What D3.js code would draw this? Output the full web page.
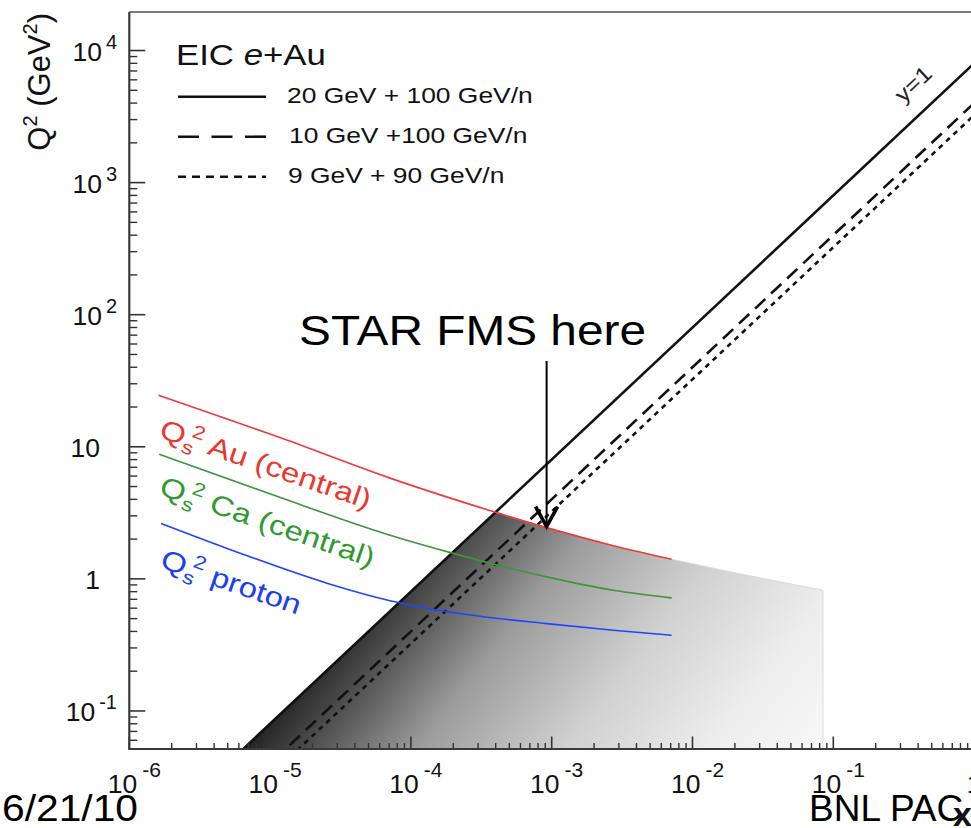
<!DOCTYPE html>
<html>
<head>
<meta charset="utf-8">
<script src="https://cdn.jsdelivr.net/npm/d3@7"></script>
<style>
  html, body { margin: 0; padding: 0; background: #fff; }
  svg { display: block; font-family: "Liberation Sans", Arial, Helvetica, sans-serif; }
</style>
</head>
<body>
<svg id="chart" width="971" height="828"></svg>
<script>
// ---- axis ticks ----
const xTicks = [1e-6, 1e-5, 1e-4, 1e-3, 1e-2, 1e-1, 1];
const xTickLabels = [["10", "-6"], ["10", "-5"], ["10", "-4"], ["10", "-3"], ["10", "-2"], ["10", "-1"], ["1", ""]];
const yTicks = [1e-1, 1, 10, 1e2, 1e3, 1e4];
const yTickLabels = [["10", "-1"], ["1", ""], ["10", ""], ["10", "2"], ["10", "3"], ["10", "4"]];

// ---- EIC e+Au kinematic limits (y = 1), Q^2 at x = 1e-6 and x = 1 ----
const beamNames = ["20 GeV + 100 GeV/n", "10 GeV +100 GeV/n", "9 GeV + 90 GeV/n"];
const beamX = [1e-6, 1];
const beamQ2_20x100 = [0.008, 8000];
const beamQ2_10x100 = [0.004, 4000];
const beamQ2_9x90 = [0.00324, 3240];

// ---- saturation scale Qs^2 (GeV^2) versus x ----
const satNames = ["Au (central)", "Ca (central)", "proton"];
const auX = [1.61e-6, 1.175e-5, 7.11e-5, 3.85e-4, 9.2e-4, 2.74e-3, 7.11e-3];
const auQs2 = [24.6, 11.74, 5.79, 3.23, 2.443, 1.784, 1.41];
const caX = [1.63e-6, 1.08e-5, 7.11e-5, 2.0e-4, 9.2e-4, 2.74e-3, 7.11e-3];
const caQs2 = [8.79, 4.27, 2.14, 1.56, 1.035, 0.821, 0.718];
const pX = [1.68e-6, 6.64e-6, 2.67e-5, 7.11e-5, 2.36e-4, 9.2e-4, 2.74e-3, 7.11e-3];
const pQs2 = [2.63, 1.517, 0.912, 0.684, 0.542, 0.458, 0.408, 0.374];

// shaded region: below the Au saturation scale (continued to x = 0.0845) and right of y = 1
const shadeX = [...auX, 0.0845];
const shadeQs2 = [...auQs2, 0.82];

// STAR FMS reach
const starFmsX = 9.2e-4;
const starLabel = "STAR FMS here";

// ---- layout ----
const L = 129.3, R = 974.1, T = 12, B = 749;
const yMin = 0.05152, yMax = 19572;
const TEXT_STRETCH = 1.2;
const GRAD_ANGLE = 38; // degrees below horizontal

const svg = d3.select("#chart");
const x = d3.scaleLog().domain([1e-6, 1]).range([L, R]);
const y = d3.scaleLog().domain([yMin, yMax]).range([B, T]);

const zip = (a, b) => a.map((v, i) => [v, b[i]]);
const defs = svg.append("defs");

defs.append("clipPath").attr("id", "plotClip")
  .append("rect").attr("x", L).attr("y", T).attr("width", R - L).attr("height", B - T);

// log-log interpolation on a sampled curve
function interpLog(xs, ys, xv) {
  const lx = xs.map(Math.log10), ly = ys.map(Math.log10), t = Math.log10(xv);
  for (let i = 0; i < lx.length - 1; i++) {
    if (t >= lx[i] && t <= lx[i + 1]) {
      const f = (t - lx[i]) / (lx[i + 1] - lx[i]);
      return Math.pow(10, ly[i] + f * (ly[i + 1] - ly[i]));
    }
  }
  return ys[ys.length - 1];
}

// ---- shaded saturation region with gradient ----
const pa = [x(beamX[0]), y(beamQ2_20x100[0])];
const pb = [x(beamX[1]), y(beamQ2_20x100[1])];
const dLen = Math.hypot(pb[0] - pa[0], pb[1] - pa[1]);
const dir = [(pb[0] - pa[0]) / dLen, (pb[1] - pa[1]) / dLen];
const perp = [-dir[1], dir[0]];
// where the y = 1 line meets the bottom of the frame
const tBottom = (B - pa[1]) / dir[1];
const g0 = [pa[0] + dir[0] * tBottom, B];
const gDir = [Math.cos(GRAD_ANGLE * Math.PI / 180), Math.sin(GRAD_ANGLE * Math.PI / 180)];
const farX = x(shadeX[shadeX.length - 1]);
const gLen = (farX - g0[0]) * gDir[0];

const grad = defs.append("linearGradient").attr("id", "shadeGrad")
  .attr("gradientUnits", "userSpaceOnUse")
  .attr("x1", g0[0]).attr("y1", g0[1])
  .attr("x2", g0[0] + gDir[0] * gLen).attr("y2", g0[1] + gDir[1] * gLen);
[[0, "#222222"], [0.1, "#4a4a4a"], [0.3, "#9c9c9c"], [0.55, "#d0d0d0"], [0.8, "#ededed"], [1, "#f8f8f8"]]
  .forEach(([o, c]) => grad.append("stop").attr("offset", o).attr("stop-color", c));

defs.append("clipPath").attr("id", "rightOfLimit")
  .append("polygon")
  .attr("points", [pa, pb, [R + 50, B + 200], [pa[0], B + 200]].map(p => p.join(",")).join(" "));

const plot = svg.append("g").attr("clip-path", "url(#plotClip)");

plot.append("g").attr("clip-path", "url(#rightOfLimit)")
  .append("path")
  .datum(zip(shadeX, shadeQs2))
  .attr("d", d3.area().x(d => x(d[0])).y0(B).y1(d => y(d[1])).curve(d3.curveMonotoneX))
  .attr("fill", "url(#shadeGrad)")
  .attr("stroke", "#d6d6d6")
  .attr("stroke-width", 0.8);

// ---- kinematic limit lines ----
const beams = [
  { q2: beamQ2_20x100, dash: null },
  { q2: beamQ2_10x100, dash: "14,8" },
  { q2: beamQ2_9x90, dash: "5,5" }
];
const lineGen = d3.line().x(d => x(d[0])).y(d => y(d[1]));
beams.forEach(b => {
  plot.append("path")
    .datum(zip(beamX, b.q2))
    .attr("d", lineGen)
    .attr("fill", "none")
    .attr("stroke", "#111")
    .attr("stroke-width", 2.6)
    .attr("stroke-dasharray", b.dash);
});

// ---- saturation curves ----
const satCurves = [
  { xs: auX, ys: auQs2, color: "#f03a3a" },
  { xs: caX, ys: caQs2, color: "#3c963c" },
  { xs: pX, ys: pQs2, color: "#1e46ff" }
];
const curveGen = d3.line().x(d => x(d[0])).y(d => y(d[1])).curve(d3.curveMonotoneX);
satCurves.forEach(c => {
  plot.append("path")
    .datum(zip(c.xs, c.ys))
    .attr("d", curveGen)
    .attr("fill", "none")
    .attr("stroke", c.color)
    .attr("stroke-width", 1.6);
});

// ---- frame and ticks ----
const axes = svg.append("g").attr("stroke", "#333");
function decadeMinors(lo, hi) {
  const out = [];
  for (let e = Math.floor(Math.log10(lo)); e <= Math.ceil(Math.log10(hi)); e++) {
    for (let k = 2; k <= 9; k++) {
      const v = k * Math.pow(10, e);
      if (v > lo && v < hi) out.push(v);
    }
  }
  return out;
}
// x axis ticks (pointing up into the frame)
axes.selectAll(".xmaj").data(xTicks).join("line")
  .attr("x1", d => x(d)).attr("x2", d => x(d)).attr("y1", B).attr("y2", B - 12.5)
  .attr("stroke-width", 1.6);
axes.selectAll(".xmin").data(decadeMinors(1e-6, 1)).join("line")
  .attr("x1", d => x(d)).attr("x2", d => x(d)).attr("y1", B).attr("y2", B - 6)
  .attr("stroke-width", 1.4);
// y axis ticks (pointing right into the frame)
axes.selectAll(".ymaj").data(yTicks).join("line")
  .attr("x1", L).attr("x2", L + 16).attr("y1", d => y(d)).attr("y2", d => y(d))
  .attr("stroke-width", 1.6);
axes.selectAll(".ymin").data(decadeMinors(yMin, yMax)).join("line")
  .attr("x1", L).attr("x2", L + 8).attr("y1", d => y(d)).attr("y2", d => y(d))
  .attr("stroke-width", 1.4);
// frame
svg.append("line").attr("x1", L).attr("x2", R).attr("y1", T).attr("y2", T)
  .attr("stroke", "#7a7a7a").attr("stroke-width", 2.2);
svg.append("line").attr("x1", L).attr("x2", L).attr("y1", T).attr("y2", B)
  .attr("stroke", "#3a3a3a").attr("stroke-width", 2.2);
svg.append("line").attr("x1", L - 1).attr("x2", R).attr("y1", B).attr("y2", B)
  .attr("stroke", "#3a3a3a").attr("stroke-width", 2.2);

// ---- tick labels ----
const xLab = svg.append("g").attr("fill", "#111");
xTicks.forEach((v, i) => {
  const [base, exp] = xTickLabels[i];
  const t = xLab.append("text")
    .attr("x", x(v) + (exp ? 5 : 0)).attr("y", 793)
    .attr("text-anchor", "middle").attr("font-size", 26.5);
  t.append("tspan").text(base);
  if (exp) t.append("tspan").attr("dx", 5).attr("dy", -16).attr("font-size", 21).text(exp);
});
const yLab = svg.append("g").attr("fill", "#111");
yTicks.forEach((v, i) => {
  const [base, exp] = yTickLabels[i];
  const t = yLab.append("text")
    .attr("x", exp ? 117 : 100).attr("y", y(v) + 10.5)
    .attr("text-anchor", "end").attr("font-size", 26.5);
  t.append("tspan").text(base);
  if (exp) t.append("tspan").attr("dx", 4).attr("dy", -12).attr("font-size", 20).text(exp);
});

// ---- y axis title ----
const yTitle = svg.append("text")
  .attr("transform", "translate(50,13) rotate(-90)")
  .attr("text-anchor", "end").attr("font-size", 31).attr("fill", "#111");
yTitle.append("tspan").text("Q");
yTitle.append("tspan").attr("dy", -13).attr("font-size", 20).text("2");
yTitle.append("tspan").attr("dy", 13).text(" (GeV");
yTitle.append("tspan").attr("dy", -13).attr("font-size", 20).text("2");
yTitle.append("tspan").attr("dy", 13).text(")");

// ---- legend ----
const leg = svg.append("g").attr("fill", "#111");
const legTitle = leg.append("text")
  .attr("transform", "translate(176,65) scale(1.2,1)").attr("font-size", 29);
legTitle.append("tspan").text("EIC ");
legTitle.append("tspan").attr("font-style", "italic").text("e");
legTitle.append("tspan").text("+Au");
const legRows = [96.7, 136.7, 176.7];
const legDash = [null, "21,12.5", "8,6"];
const legTextX = [287, 289, 288];
beamNames.forEach((name, i) => {
  leg.append("line").attr("x1", 178).attr("x2", 266)
    .attr("y1", legRows[i]).attr("y2", legRows[i])
    .attr("stroke", "#111").attr("stroke-width", 2.6)
    .attr("stroke-dasharray", legDash[i]);
  leg.append("text")
    .attr("transform", `translate(${legTextX[i]},${legRows[i] + 6.6}) scale(${TEXT_STRETCH},1)`)
    .attr("font-size", 22).text(name);
});

// ---- y = 1 label along the 20 GeV + 100 GeV/n limit ----
{
  const xv = 0.498;
  const px = x(xv), py = y(interpLog(beamX, beamQ2_20x100, xv));
  const ang = Math.atan2(pb[1] - pa[1], pb[0] - pa[0]) * 180 / Math.PI;
  const off = 19;
  svg.append("text")
    .attr("transform", `translate(${px - perp[0] * off},${py - perp[1] * off}) rotate(${ang}) scale(1.15,1)`)
    .attr("text-anchor", "middle").attr("font-size", 22).attr("fill", "#222").text("y=1");
}

// ---- saturation curve labels ----
const satLabelPos = [[158, 437], [158, 494], [159, 567]];
const satTextColors = ["#e8382f", "#2f9a2f", "#1a40f0"];
satNames.forEach((name, i) => {
  const t = svg.append("text")
    .attr("transform", `translate(${satLabelPos[i][0]},${satLabelPos[i][1]}) rotate(19) scale(${TEXT_STRETCH},1)`)
    .attr("font-size", 27.5).attr("fill", satTextColors[i]);
  t.append("tspan").text("Q");
  t.append("tspan").attr("dy", 7).attr("font-size", 19).text("s");
  t.append("tspan").attr("dx", -5).attr("dy", -18).attr("font-size", 19).text("2");
  t.append("tspan").attr("dy", 11).text(" " + name);
});

// ---- STAR FMS annotation ----
{
  const ax = x(starFmsX);
  const tipY = y(interpLog(auX, auQs2, starFmsX)) - 1;
  svg.append("text").attr("x", 299).attr("y", 345)
    .attr("font-size", 42).attr("fill", "#000")
    .attr("textLength", 347).attr("lengthAdjust", "spacingAndGlyphs")
    .text(starLabel);
  svg.append("line").attr("x1", ax).attr("x2", ax).attr("y1", 361).attr("y2", tipY - 2)
    .attr("stroke", "#000").attr("stroke-width", 2);
  svg.append("polyline")
    .attr("points", `${ax - 11},${tipY - 20} ${ax},${tipY} ${ax + 11},${tipY - 20}`)
    .attr("fill", "none").attr("stroke", "#000").attr("stroke-width", 3.6)
    .attr("stroke-linejoin", "miter");
}

// ---- slide footer ----
svg.append("text").attr("x", 2).attr("y", 821).attr("font-size", 37).attr("fill", "#000")
  .attr("textLength", 136).attr("lengthAdjust", "spacingAndGlyphs").text("6/21/10");
svg.append("text").attr("x", 809).attr("y", 821).attr("font-size", 37).attr("fill", "#000")
  .text("BNL PAC");
// x axis title, drawn over the footer
svg.append("text").attr("x", 972).attr("y", 826).attr("text-anchor", "end")
  .attr("font-size", 34).attr("font-weight", "bold").attr("fill", "#111").text("x");
</script>
</body>
</html>
